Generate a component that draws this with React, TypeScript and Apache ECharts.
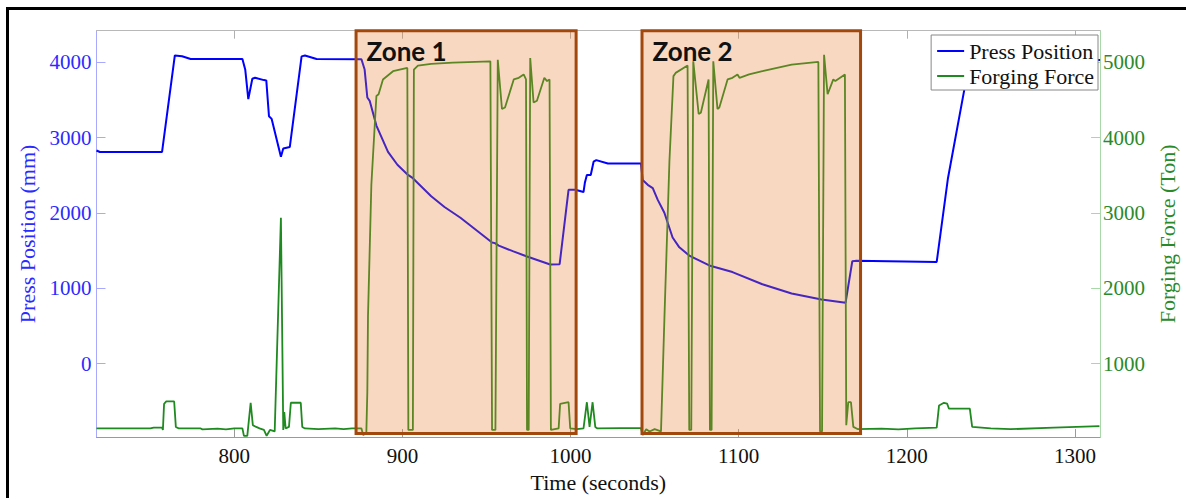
import React, { useEffect, useRef } from "react";
import * as echarts from "echarts";

// ---- data ----
const xTicks = [800, 900, 1000, 1100, 1200, 1300];
const pressTicks = [0, 1000, 2000, 3000, 4000];
const forceTicks = [1000, 2000, 3000, 4000, 5000];

const pressTime = [
  718, 720, 757, 764.6, 768.9, 774, 804.8, 806.5, 808.3, 810.7, 812.3, 817.6, 819, 820.6, 822.2,
  827.7, 829.1, 833, 840, 842, 848.9, 875.6, 877.5, 879.1, 880.5, 884.5, 891.4, 897, 903.3, 906.2,
  917.1, 925, 934.5, 944, 953.3, 955, 957.3, 966, 974.1, 981, 987.9, 993.5, 998.8, 1002.8, 1007.7,
  1008.5, 1009.7, 1012, 1013.7, 1015.3, 1022.2, 1041.9, 1042.9, 1045.9, 1048.9, 1051.8, 1055.8,
  1060.7, 1064.7, 1070.6, 1082.5, 1096.3, 1114.1, 1131.5, 1149.3, 1163.6, 1167.6, 1170, 1217.8,
  1224.5, 1235, 1238, 1242, 1315,
];
const pressValue = [
  2830, 2810, 2810, 4092, 4080, 4045, 4045, 3900, 3511, 3782, 3795, 3764, 3760, 3284, 3249,
  2746, 2855, 2877, 4079, 4090, 4045, 4040, 3904, 3533, 3489, 3161, 2812, 2640, 2505, 2462,
  2222, 2080, 1937, 1770, 1609, 1600, 1566, 1490, 1422, 1370, 1317, 1320, 2308, 2308, 2278,
  2400, 2505, 2505, 2681, 2702, 2658, 2658, 2439, 2374, 2330, 2177, 2003,
  1675, 1544, 1435, 1304, 1216, 1054, 931, 852, 809, 1360, 1365, 1350,
  2462, 3730, 4070, 4040, 4030,
];

const forceTime = [
  718, 750, 752, 757, 757.5, 758.2, 759.5, 764.2, 765.2, 767, 780, 781, 790, 795, 800, 804.8,
  805.7, 807.7, 809.7, 811, 813, 815, 817.6, 819.2, 821.2, 824, 827.7, 829.1, 829.7, 830.5, 832.5,
  833.6, 839.5, 840.4, 842, 850, 860, 865, 870, 875.6, 876.6, 878.5, 879.1, 879.5, 881.5, 884.5,
  885.8, 888.4, 894.4, 902.9, 903.5, 906.2, 906.8, 909.2, 917.1, 930, 952.3, 953.3, 955.3, 956.7,
  959.2, 961, 966.2, 969.2, 972.1, 973.5, 974.1, 975.1, 976, 978, 980, 984.4, 986, 987.5, 988.3,
  992.9, 993.8, 998.8, 999.8, 1003.8, 1007.7, 1009.7, 1011.3, 1013.1, 1014.7, 1016, 1030, 1041.9,
  1042.9, 1045, 1047, 1050, 1053.8, 1055.8, 1058.8, 1061.2, 1062.5, 1069.6, 1070.6, 1071.8, 1073,
  1076.2, 1077.5, 1082.1, 1082.9, 1083.9, 1084.9, 1087.4, 1088.5, 1093.4, 1096.3, 1099.3, 1100.5,
  1106.2, 1114.1, 1131.5, 1147.4, 1148.4, 1149.6, 1150.8, 1152.9, 1156.3, 1157.5, 1163.2, 1164,
  1165.2, 1166.8, 1168.2, 1171, 1185, 1195, 1205, 1217.8, 1219.2, 1222.1, 1224, 1225.1, 1237.5,
  1238.9, 1250, 1261.7, 1287.4, 1314.6,
];
const forceValue = [
  140, 140, 150, 150, 120, 467, 498, 498, 161, 140, 140, 128, 138, 128, 140, 140,
  42, 42, 481, 183, 160, 140, 120, 42, 120, 100, 2937, 120, 357, 140, 160,
  481, 481, 160, 140, 132, 140, 130, 140, 140, 52, 75, 620, 1625, 3374, 4554,
  4576, 4773, 4882, 4926, 120, 120, 4904, 4957, 4979, 4995, 5013, 120, 120, 5035,
  4380, 4400, 4773, 4795, 4839, 4773, 120, 120, 5057, 4467, 4490, 4795, 4751, 4773, 120,
  140, 467, 488, 140, 130, 140, 488, 160, 488, 160, 140, 145, 145,
  52, 130, 100, 130, 100, 1582, 3681, 4817, 4860, 4957, 120, 120, 5013,
  4314, 4330, 4773, 120, 120, 5013, 4380, 4400, 4773, 4795, 4839, 4795,
  4839, 4882, 4970, 5005, 100, 100, 5101, 4576, 4773, 4751, 4839, 183,
  488, 488, 160, 130, 138, 128, 140, 150, 445, 480, 470, 402, 402,
  160, 140, 130, 150, 170,
];

const zoneNames = ["Zone 1", "Zone 2"];
const zoneStart = [872.4, 1042.5];
const zoneEnd = [1003.3, 1172.5];
const zoneTop = 4420;
const zoneBottom = -926;

const serif = "'Liberation Serif', 'Times New Roman', serif";
const plain = (v: number) => String(v);

export default function App() {
  const ref = useRef<HTMLDivElement>(null);

  useEffect(() => {
    if (!ref.current) return;
    const chart = echarts.init(ref.current, null, { renderer: "svg" });
    const blueAxis = "#a8a8ff";
    const greenAxis = "#a8d8a8";
    const option: any = {
      animation: false,
      backgroundColor: "#ffffff",
      grid: { left: 96.5, top: 30.7, right: 84, bottom: 56, containLabel: false },
      legend: {
        data: ["Press Position", "Forging Force"],
        orient: "vertical",
        right: 88,
        top: 35,
        backgroundColor: "#ffffff",
        borderColor: "#888888",
        borderWidth: 1,
        borderRadius: 0,
        padding: [5, 4, 3, 6],
        itemGap: 3,
        itemWidth: 27,
        itemHeight: 2,
        icon: "rect",
        z: 20,
        textStyle: { fontFamily: serif, fontSize: 22, color: "#111111" },
      },
      xAxis: [
        {
          type: "value",
          position: "bottom",
          min: 718,
          max: 1315,
          axisLine: { show: true, onZero: false, lineStyle: { color: "#9a9a9a", width: 1 } },
          axisTick: { show: true, inside: true, length: 8, customValues: xTicks, lineStyle: { color: "#9a9a9a" } },
          axisLabel: { customValues: xTicks, formatter: plain, fontFamily: serif, fontSize: 21, color: "#111111", margin: 8 },
          splitLine: { show: false },
          name: "Time (seconds)",
          nameLocation: "middle",
          nameGap: 25,
          nameTextStyle: { fontFamily: serif, fontSize: 22, color: "#111111" },
        },
        {
          type: "value",
          position: "top",
          min: 718,
          max: 1315,
          axisLine: { show: true, onZero: false, lineStyle: { color: "#b8b8b8", width: 1 } },
          axisTick: { show: true, inside: true, length: 8, customValues: xTicks, lineStyle: { color: "#b0b0b0" } },
          axisLabel: { show: false },
          splitLine: { show: false },
        },
      ],
      yAxis: [
        {
          type: "value",
          position: "left",
          min: -975,
          max: 4420,
          axisLine: { show: true, onZero: false, lineStyle: { color: blueAxis, width: 1 } },
          axisTick: { show: true, inside: true, length: 9, customValues: pressTicks, lineStyle: { color: blueAxis } },
          axisLabel: { customValues: pressTicks, formatter: plain, fontFamily: serif, fontSize: 21, color: "#2b2bff", margin: 5 },
          splitLine: { show: false },
          name: "Press Position (mm)",
          nameLocation: "middle",
          nameGap: 52,
          nameTextStyle: { fontFamily: serif, fontSize: 22, color: "#2b2bff" },
        },
        {
          type: "value",
          position: "right",
          min: 25,
          max: 5420,
          axisLine: { show: true, onZero: false, lineStyle: { color: greenAxis, width: 1 } },
          axisTick: { show: true, inside: true, length: 9, customValues: forceTicks, lineStyle: { color: greenAxis } },
          axisLabel: { customValues: forceTicks, formatter: plain, fontFamily: serif, fontSize: 21, color: "#2a8a2a", margin: 3 },
          splitLine: { show: false },
          name: "Forging Force (Ton)",
          nameLocation: "middle",
          nameGap: 51,
          nameTextStyle: { fontFamily: serif, fontSize: 22, color: "#2a8a2a" },
        },
      ],
      graphic: [
        {
          type: "rect",
          silent: true,
          z: 0,
          shape: { x: 7.5, y: 8.5, width: 1190, height: 500 },
          style: { fill: "none", stroke: "#000000", lineWidth: 3 },
        },
      ],
      series: [
        {
          name: "Press Position",
          type: "line",
          xAxisIndex: 0,
          yAxisIndex: 0,
          showSymbol: false,
          symbol: "none",
          z: 2,
          lineStyle: { color: "#0000ff", width: 2 },
          itemStyle: { color: "#0000ff" },
          data: pressTime.map((t, i) => [t, pressValue[i]]),
          markArea: {
            z: 10,
            silent: true,
            itemStyle: { color: "rgba(232,125,45,0.3)", borderColor: "#a3480d", borderWidth: 3 },
            label: {
              show: true,
              position: "insideTopLeft",
              distance: 0,
              offset: [12, 9],
              color: "#111111",
              fontFamily: "Lato, 'Liberation Sans', sans-serif",
              fontWeight: "bold",
              fontSize: 26,
            },
            data: zoneNames.map((n, i) => [
              { name: n, coord: [zoneStart[i], zoneTop] },
              { coord: [zoneEnd[i], zoneBottom] },
            ]),
          },
        },
        {
          name: "Forging Force",
          type: "line",
          xAxisIndex: 0,
          yAxisIndex: 1,
          showSymbol: false,
          symbol: "none",
          z: 2,
          lineStyle: { color: "#1f8a1f", width: 1.8 },
          itemStyle: { color: "#1f8a1f" },
          data: forceTime.map((t, i) => [t, forceValue[i]]),
        },
      ],
    };
    chart.setOption(option);
    return () => chart.dispose();
  }, []);

  return (
    <div
      ref={ref}
      style={{ position: "absolute", left: 0, top: 0, width: 1186, height: 498, background: "#fff" }}
    />
  );
}
